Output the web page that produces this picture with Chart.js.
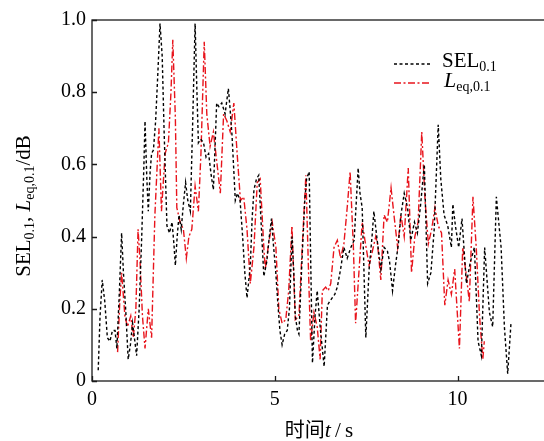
<!DOCTYPE html>
<html>
<head>
<meta charset="utf-8">
<script src="https://cdn.jsdelivr.net/npm/chart.js@4.4.0/dist/chart.umd.min.js"></script>
<style>
  html, body { margin: 0; padding: 0; background: #fff; overflow: hidden; }
  #wrap { width: 552px; height: 441px; }
</style>
</head>
<body>
<div id="wrap"><canvas id="chart" width="552" height="441"></canvas></div>
<script>
// SEL 0.1 (black, dashed) - time in s
const selT = [
  0.17, 0.22, 0.28, 0.35, 0.42, 0.49, 0.56, 0.63, 0.68, 0.75,
  0.81, 0.86, 0.92, 0.99, 1.05, 1.11, 1.16, 1.22, 1.29, 1.36,
  1.42, 1.45, 1.50, 1.54, 1.59, 1.63, 1.68, 1.74, 1.80, 1.86,
  1.92, 1.97, 2.05, 2.12, 2.19, 2.24, 2.28, 2.33, 2.38, 2.44,
  2.50, 2.56, 2.62, 2.69, 2.75, 2.82, 2.87, 2.91, 2.97, 3.05,
  3.12, 3.19, 3.26, 3.32, 3.37, 3.41, 3.47, 3.55, 3.64, 3.73,
  3.78, 3.83, 3.88, 3.92, 3.98, 4.05, 4.12, 4.18, 4.24, 4.33,
  4.38, 4.43, 4.50, 4.56, 4.62, 4.70, 4.78, 4.85, 4.91, 4.96,
  5.02, 5.08, 5.14, 5.20, 5.27, 5.34, 5.40, 5.47, 5.52, 5.56,
  5.62, 5.66, 5.75, 5.82, 5.87, 5.94, 6.03, 6.10, 6.16, 6.25,
  6.35, 6.44, 6.50, 6.57, 6.64, 6.71, 6.80, 6.89, 6.98, 7.08,
  7.17, 7.28, 7.33, 7.39, 7.49, 7.58, 7.66, 7.71, 7.80, 7.90,
  7.99, 8.08, 8.14, 8.22, 8.30, 8.38, 8.45, 8.54, 8.63, 8.72,
  8.82, 8.90, 8.98, 9.09, 9.18, 9.27, 9.36, 9.47, 9.54, 9.63,
  9.73, 9.83, 9.87, 9.94, 10.03, 10.12, 10.24, 10.35, 10.46, 10.56,
  10.65, 10.74, 10.87, 10.96, 11.06, 11.19, 11.28, 11.37, 11.46
];
const selV = [
  0.03, 0.18, 0.28, 0.22, 0.12, 0.11, 0.14, 0.14, 0.09, 0.25,
  0.41, 0.30, 0.20, 0.06, 0.10, 0.16, 0.12, 0.07, 0.20, 0.40,
  0.60, 0.72, 0.56, 0.47, 0.58, 0.63, 0.64, 0.72, 0.85, 0.99,
  0.90, 0.70, 0.43, 0.41, 0.44, 0.38, 0.32, 0.40, 0.46, 0.42,
  0.49, 0.55, 0.50, 0.47, 0.70, 0.99, 0.80, 0.66, 0.67, 0.66,
  0.62, 0.63, 0.57, 0.53, 0.66, 0.77, 0.76, 0.77, 0.74, 0.81,
  0.75, 0.68, 0.58, 0.50, 0.52, 0.50, 0.40, 0.30, 0.23, 0.32,
  0.45, 0.53, 0.56, 0.57, 0.45, 0.29, 0.33, 0.40, 0.45, 0.38,
  0.31, 0.22, 0.14, 0.10, 0.13, 0.14, 0.20, 0.40, 0.30, 0.18,
  0.14, 0.13, 0.35, 0.50, 0.56, 0.58, 0.05, 0.18, 0.25, 0.14,
  0.04, 0.21, 0.22, 0.23, 0.24, 0.26, 0.31, 0.37, 0.34, 0.37,
  0.39, 0.59, 0.52, 0.48, 0.12, 0.31, 0.40, 0.47, 0.39, 0.31,
  0.37, 0.36, 0.33, 0.25, 0.32, 0.38, 0.46, 0.52, 0.48, 0.39,
  0.44, 0.41, 0.48, 0.60, 0.27, 0.30, 0.42, 0.71, 0.56, 0.46,
  0.43, 0.37, 0.49, 0.43, 0.37, 0.45, 0.27, 0.33, 0.37, 0.11,
  0.07, 0.37, 0.19, 0.15, 0.51, 0.37, 0.15, 0.02, 0.16
];

// Leq 0.1 (red, dash-dot)
const leqT = [
  0.70, 0.76, 0.81, 0.90, 0.97, 1.06, 1.13, 1.20, 1.26, 1.31,
  1.38, 1.45, 1.54, 1.63, 1.72, 1.83, 1.90, 2.00, 2.09, 2.16,
  2.21, 2.28, 2.32, 2.41, 2.50, 2.58, 2.65, 2.73, 2.82, 2.91,
  2.98, 3.07, 3.14, 3.23, 3.32, 3.41, 3.51, 3.60, 3.69, 3.78,
  3.88, 3.97, 4.06, 4.15, 4.24, 4.33, 4.43, 4.52, 4.60, 4.70,
  4.74, 4.83, 4.93, 5.03, 5.11, 5.20, 5.30, 5.38, 5.47, 5.56,
  5.66, 5.75, 5.85, 5.94, 5.98, 6.07, 6.16, 6.24, 6.30, 6.39,
  6.46, 6.53, 6.62, 6.71, 6.80, 6.89, 6.98, 7.06, 7.15, 7.21,
  7.30, 7.39, 7.48, 7.58, 7.67, 7.76, 7.81, 7.90, 7.99, 8.08,
  8.18, 8.27, 8.36, 8.45, 8.54, 8.65, 8.74, 8.83, 8.92, 9.02,
  9.11, 9.20, 9.29, 9.38, 9.47, 9.56, 9.65, 9.74, 9.83, 9.92,
  10.05, 10.14, 10.23, 10.32, 10.42, 10.51, 10.60, 10.69, 10.73
];
const leqV = [
  0.08, 0.22, 0.30, 0.18, 0.15, 0.18, 0.12, 0.20, 0.42, 0.34,
  0.18, 0.09, 0.20, 0.12, 0.46, 0.70, 0.47, 0.63, 0.66, 0.80,
  0.945, 0.73, 0.48, 0.44, 0.42, 0.34, 0.40, 0.42, 0.54, 0.47,
  0.63, 0.94, 0.74, 0.65, 0.69, 0.61, 0.52, 0.74, 0.72, 0.69,
  0.77, 0.63, 0.50, 0.51, 0.42, 0.27, 0.37, 0.55, 0.56, 0.37,
  0.31, 0.38, 0.44, 0.37, 0.20, 0.16, 0.17, 0.25, 0.43, 0.17,
  0.18, 0.37, 0.57, 0.24, 0.11, 0.19, 0.15, 0.06, 0.25, 0.26,
  0.25, 0.27, 0.37, 0.39, 0.34, 0.38, 0.48, 0.58, 0.37, 0.16,
  0.30, 0.44, 0.38, 0.32, 0.36, 0.40, 0.38, 0.28, 0.46, 0.44,
  0.535, 0.45, 0.37, 0.46, 0.40, 0.59, 0.30, 0.40, 0.44, 0.69,
  0.50, 0.38, 0.42, 0.48, 0.43, 0.41, 0.21, 0.28, 0.24, 0.31,
  0.09, 0.37, 0.30, 0.22, 0.51, 0.37, 0.18, 0.06, 0.11
];

const xTicks = [0, 5, 10];
const yTicks = [0, 0.2, 0.4, 0.6, 0.8, 1.0];

const SERIF = '"Liberation Serif", "Times New Roman", serif';
const CJK = '"Noto Sans CJK SC", sans-serif';

function toPoints(ts, vs) {
    return ts.map((t, i) => ({ x: t, y: vs[i] }));
}

// draws a run of text pieces (normal / italic / subscript) one after another
function textWidth(ctx, parts) {
    let w = 0;
    parts.forEach(p => { ctx.font = p.font; w += ctx.measureText(p.t).width; });
    return w;
}
function drawRich(ctx, x, y, parts) {
    parts.forEach(p => {
        ctx.font = p.font;
        ctx.fillText(p.t, x, y + (p.dy || 0));
        x += ctx.measureText(p.t).width;
    });
}

const axesPlugin = {
    id: 'axesPlugin',
    afterDraw: function(chart) {
        const ctx = chart.ctx;
        const a = chart.chartArea;
        const xs = chart.scales.x;
        const ys = chart.scales.y;

        ctx.save();
        ctx.strokeStyle = '#1a1a1a';
        ctx.lineWidth = 1.3;
        ctx.setLineDash([]);
        ctx.strokeRect(a.left, a.top, a.right - a.left, a.bottom - a.top);

        // inward ticks
        ctx.beginPath();
        xTicks.forEach(v => {
            const px = Math.round(xs.getPixelForValue(v)) + 0.5;
            ctx.moveTo(px, a.bottom);
            ctx.lineTo(px, a.bottom - 5);
        });
        yTicks.forEach(v => {
            const py = Math.round(ys.getPixelForValue(v)) + 0.5;
            ctx.moveTo(a.left, py);
            ctx.lineTo(a.left + 5, py);
        });
        ctx.stroke();

        ctx.fillStyle = '#000';
        ctx.textBaseline = 'alphabetic';
        ctx.textAlign = 'left';

        // legend
        ctx.lineWidth = 1.4;
        ctx.strokeStyle = '#000';
        ctx.setLineDash([3, 2.5]);
        ctx.beginPath();
        ctx.moveTo(394, 64);
        ctx.lineTo(431, 64);
        ctx.stroke();
        ctx.strokeStyle = '#e8141c';
        ctx.setLineDash([7, 2.5, 2, 2.5]);
        ctx.beginPath();
        ctx.moveTo(394, 83);
        ctx.lineTo(431, 83);
        ctx.stroke();
        ctx.setLineDash([]);

        drawRich(ctx, 442, 67, [
            { t: 'SEL', font: '21px ' + SERIF },
            { t: '0.1', font: '14px ' + SERIF, dy: 4 }
        ]);
        drawRich(ctx, 444, 87, [
            { t: 'L', font: 'italic 22px ' + SERIF },
            { t: 'eq,0.1', font: '14px ' + SERIF, dy: 4 }
        ]);

        // y title
        const yParts = [
            { t: 'SEL', font: '21px ' + SERIF },
            { t: '0.1', font: '14px ' + SERIF, dy: 4 },
            { t: ', ', font: '21px ' + SERIF },
            { t: 'L', font: 'italic 21px ' + SERIF },
            { t: 'eq,0.1', font: '14px ' + SERIF, dy: 4 },
            { t: '/dB', font: '21px ' + SERIF }
        ];
        ctx.save();
        ctx.translate(30, 206);
        ctx.rotate(-Math.PI / 2);
        drawRich(ctx, -textWidth(ctx, yParts) / 2, 0, yParts);
        ctx.restore();

        // x title
        const xParts = [
            { t: '时间', font: '20px ' + CJK },
            { t: 't', font: 'italic 22px ' + SERIF },
            { t: '\u2009/\u2009', font: '21px ' + SERIF },
            { t: 's', font: '21px ' + SERIF }
        ];
        drawRich(ctx, 319 - textWidth(ctx, xParts) / 2, 437, xParts);

        ctx.restore();
    }
};

const config = {
    type: 'line',
    data: {
        datasets: [
            {
                label: 'SEL0.1',
                data: toPoints(selT, selV),
                borderColor: '#000',
                borderWidth: 1.4,
                borderDash: [3, 2.5],
                pointRadius: 0,
                tension: 0,
                fill: false
            },
            {
                label: 'Leq,0.1',
                data: toPoints(leqT, leqV),
                borderColor: '#e8141c',
                borderWidth: 1.4,
                borderDash: [7, 2.5, 2, 2.5],
                pointRadius: 0,
                tension: 0,
                fill: false
            }
        ]
    },
    options: {
        responsive: false,
        animation: false,
        devicePixelRatio: 1,
        layout: { padding: { top: 20, right: 3, left: 0, bottom: 0 } },
        plugins: {
            legend: { display: false },
            tooltip: { enabled: false }
        },
        scales: {
            x: {
                type: 'linear',
                min: 0,
                max: 12.5,
                grid: { display: false, drawTicks: false },
                border: { display: false },
                afterBuildTicks: s => { s.ticks = xTicks.map(v => ({ value: v })); },
                afterFit: s => { s.height = 60; },
                ticks: {
                    color: '#000',
                    padding: 7,
                    maxRotation: 0,
                    font: { family: SERIF, size: 20 }
                }
            },
            y: {
                min: 0,
                max: 1,
                grid: { display: false, drawTicks: false },
                border: { display: false },
                afterBuildTicks: s => { s.ticks = yTicks.map(v => ({ value: v })); },
                afterFit: s => { s.width = 92; },
                ticks: {
                    color: '#000',
                    padding: 6,
                    font: { family: SERIF, size: 20 },
                    callback: v => (v === 0 ? '0' : v.toFixed(1))
                }
            }
        }
    },
    plugins: [axesPlugin]
};

new Chart(document.getElementById('chart'), config);
</script>
</body>
</html>
